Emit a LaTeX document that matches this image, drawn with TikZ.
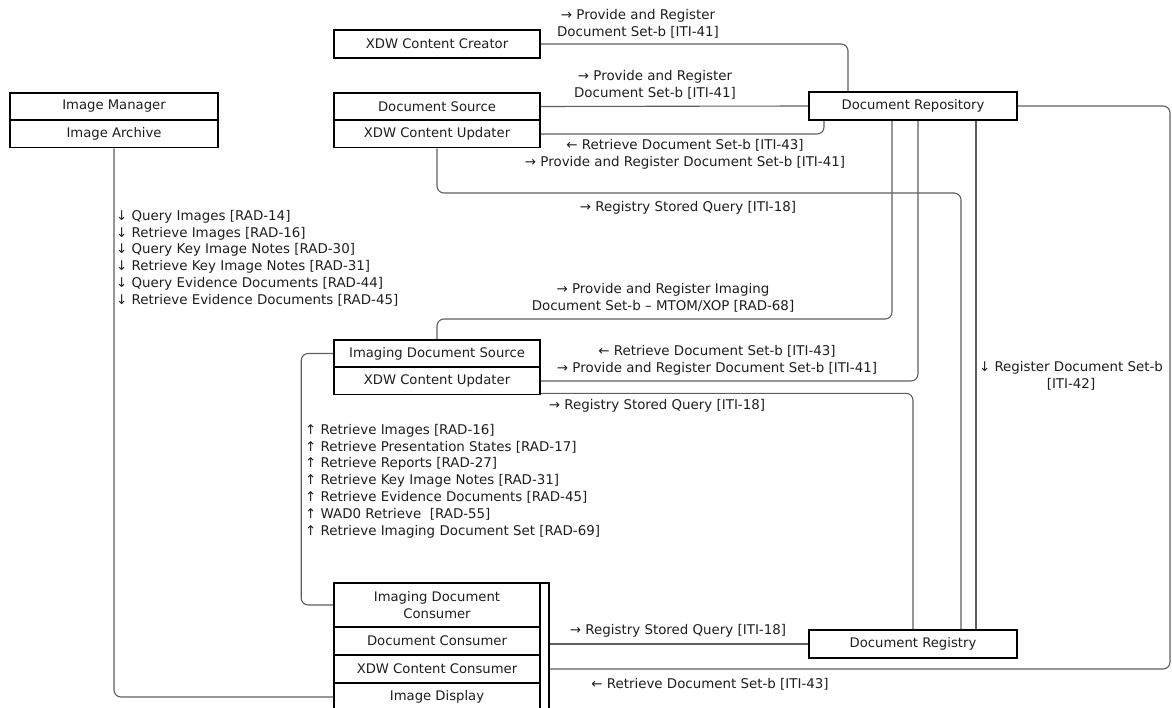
\documentclass[tikz,border=0pt]{standalone}
\usepackage{fontspec}
\setmainfont{DejaVu Sans}
\definecolor{textc}{HTML}{1E1E1E}
\definecolor{linec}{HTML}{5E5E5E}
\begin{document}
\begin{tikzpicture}[x=1pt,y=-1pt,
  box/.style={draw=black, line width=1.6pt, fill=white, inner sep=0pt,
    minimum width=206pt, minimum height=27pt,
    font=\fontsize{13.2}{17.5}\selectfont, text=textc, align=center},
  conn/.style={draw=linec, line width=1.1pt, rounded corners=7pt},
  lbl/.style={font=\fontsize{13.4}{16.8}\selectfont, text=textc, align=center, inner sep=0pt},
  lst/.style={lbl, align=left, anchor=north west}]
\useasboundingbox (0,0) rectangle (1172,708);

% actors
\node[box, minimum height=28pt] (creator) at (437,44) {XDW Content Creator};
\node[box] (docsrc) at (437,106.5) {Document Source};
\node[box] (xdwupd1) at (437,134) {XDW Content Updater};
\node[box, minimum width=208pt] (imgmgr) at (114,106.5) {Image Manager};
\node[box, minimum width=208pt] (imgarch) at (114,134) {Image Archive};
\node[box, minimum width=208pt, minimum height=28pt] (repo) at (913,106) {Document Repository};
\node[box] (imgsrc) at (437,353.5) {Imaging Document Source};
\node[box] (xdwupd2) at (437,381) {XDW Content Updater};
\node[box, minimum width=208pt, minimum height=28pt] (registry) at (913,644) {Document Registry};

% grouped consumer actors
\node[draw=black, line width=1.6pt, fill=white, inner sep=0pt,
  minimum width=215pt, minimum height=132pt] (grp) at (441.5,649) {};
\node[box, minimum height=44pt] (imgcons) at (437,605) {Imaging Document\\Consumer};
\node[box, minimum height=28pt] (doccons) at (437,641) {Document Consumer};
\node[box, minimum height=28pt] (xdwcons) at (437,669) {XDW Content Consumer};
\node[box, minimum height=28pt] (imgdisp) at (437,697) {Image Display};

% transactions
\draw[conn] (creator.east) -| ([xshift=-65pt]repo.north);
\draw[conn] (docsrc.east) -- (repo.west);
\draw[conn] (xdwupd1.east) -| ([xshift=-89pt]repo.south);
\draw[conn] (xdwupd1.south) |- (961,193) -- ([xshift=48pt]registry.north);
\draw[conn] ([xshift=-21pt]repo.south) |- (437,319) -- (imgsrc.north);
\draw[conn] (xdwupd2.east) -| ([xshift=5pt]repo.south);
\draw[conn] ([yshift=2pt]xdwupd2.south east) -| (registry.north);
\draw[conn] ([xshift=63pt]repo.south) -- ([xshift=63pt]registry.north);
\draw[conn] (imgsrc.west) -- ++(-32,0) |- (imgcons.west);
\draw[conn] (imgarch.south) |- (imgdisp.west);
\draw[conn] (registry.west -| grp.east) -- (registry.west);
\coordinate (rturn) at (1170,106);
\draw[conn] (xdwcons.east -| grp.east) -| (rturn) -- (repo.east);

% transaction labels
\node[lbl] (l1) at (638,24) {→ Provide and Register\\Document Set-b [ITI-41]};
\node[lbl] (l2) at (655,85) {→ Provide and Register\\Document Set-b [ITI-41]};
\node[lbl] (l3) at (685,154.5) {← Retrieve Document Set-b [ITI-43]\\→ Provide and Register Document Set-b [ITI-41]};
\node[lbl] (l4) at (688,208) {→ Registry Stored Query [ITI-18]};
\node[lst] (l5) at (116,210) {↓ Query Images [RAD-14]\\↓ Retrieve Images [RAD-16]\\↓ Query Key Image Notes [RAD-30]\\↓ Retrieve Key Image Notes [RAD-31]\\↓ Query Evidence Documents [RAD-44]\\↓ Retrieve Evidence Documents [RAD-45]};
\node[lbl] (l6) at (663,298) {→ Provide and Register Imaging\\Document Set-b – MTOM/XOP [RAD-68]};
\node[lbl] (l7) at (717,360) {← Retrieve Document Set-b [ITI-43]\\→ Provide and Register Document Set-b [ITI-41]};
\node[lbl] (l8) at (657,406) {→ Registry Stored Query [ITI-18]};
\node[lst] (l9) at (305,424) {↑ Retrieve Images [RAD-16]\\↑ Retrieve Presentation States [RAD-17]\\↑ Retrieve Reports [RAD-27]\\↑ Retrieve Key Image Notes [RAD-31]\\↑ Retrieve Evidence Documents [RAD-45]\\↑ WAD0 Retrieve\ \ [RAD-55]\\↑ Retrieve Imaging Document Set [RAD-69]};
\node[lbl] (l10) at (1071,375.5) {↓ Register Document Set-b\\{[ITI-42]}};
\node[lbl] (l11) at (678,631) {→ Registry Stored Query [ITI-18]};
\node[lbl] (l12) at (710,684) {← Retrieve Document Set-b [ITI-43]};
\end{tikzpicture}
\end{document}
